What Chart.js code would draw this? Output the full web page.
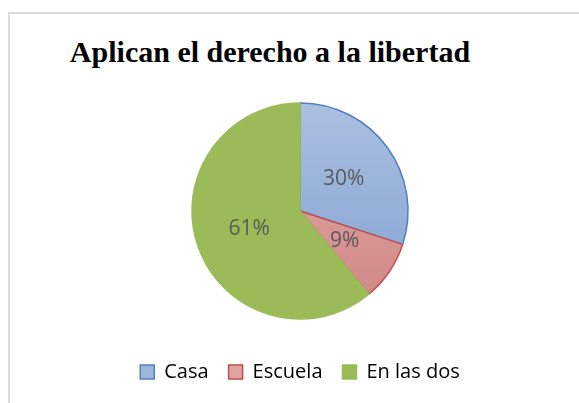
<!DOCTYPE html>
<html>
<head>
<meta charset="utf-8">
<script src="https://cdn.jsdelivr.net/npm/chart.js@4/dist/chart.umd.min.js"></script>
<style>
    html, body { margin: 0; padding: 0; background: #fff; }
    #wrap { position: relative; width: 579px; height: 403px; overflow: hidden; }
    #frame { position: absolute; left: 8px; top: 12px; width: 600px; height: 420px;
        border-left: 2px solid #dcdcdc; border-top: 2px solid #dcdcdc; }
    #title { position: absolute; left: 0; top: 35px; width: 540px; text-align: center;
        font: bold 30px "Liberation Serif", "DejaVu Serif", serif; color: #000; }
    canvas { position: absolute; left: 0; top: 0; }
</style>
</head>
<body>
<div id="wrap">
    <div id="frame"></div>
    <div id="title">Aplican el derecho a la libertad</div>
    <canvas id="c" width="579" height="403"></canvas>
</div>
<script>
/* Datos del gráfico */
const CATEGORIES = ['Casa', 'Escuela', 'En las dos'];
const VALUES = [30, 9, 61];
const PCT_LABELS = ['30%', '9%', '61%'];

// colores estilo Office: [arriba, abajo] del degradado y borde
const FILL_TOP = ['#abc0e1', '#e4acab', '#9bbb59'];
const FILL_BOTTOM = ['#809fd0', '#cf8583', '#9bbb59'];
const BORDERS = ['#4f81bd', '#c0504d', '#9bbb59'];
const LEGEND_FILL = ['#9fb6dc', '#dfa3a2', '#9bbb59'];

const PIE_R = 108;

function sliceFill(ctx) {
    const chart = ctx.chart;
    const area = chart.chartArea;
    const i = ctx.dataIndex;
    if (!area || FILL_TOP[i] === FILL_BOTTOM[i]) return FILL_TOP[i];
    const cy = (area.top + area.bottom) / 2;
    const g = chart.ctx.createLinearGradient(0, cy - PIE_R, 0, cy + PIE_R);
    g.addColorStop(0, FILL_TOP[i]);
    g.addColorStop(1, FILL_BOTTOM[i]);
    return g;
}

// etiquetas de porcentaje dentro de cada porción
const pctLabels = {
    id: 'pctLabels',
    afterDatasetsDraw(chart) {
        const { ctx } = chart;
        const meta = chart.getDatasetMeta(0);
        ctx.save();
        ctx.font = '21px "Open Sans", sans-serif';
        ctx.fillStyle = '#595959';
        ctx.textAlign = 'center';
        ctx.textBaseline = 'middle';
        meta.data.forEach((arc, i) => {
            const p = arc.tooltipPosition();
            ctx.fillText(PCT_LABELS[i], p.x, p.y);
        });
        ctx.restore();
    },
};

new Chart(document.getElementById('c'), {
    type: 'pie',
    data: {
        labels: CATEGORIES,
        datasets: [{
            data: VALUES,
            backgroundColor: sliceFill,
            borderColor: BORDERS,
            borderWidth: 1.5,
        }],
    },
    options: {
        responsive: false,
        animation: false,
        radius: PIE_R,
        layout: { padding: { top: 80, bottom: 11, left: 21, right: 0 } },
        plugins: {
            title: { display: false },
            tooltip: { enabled: false },
            legend: {
                position: 'bottom',
                labels: {
                    boxWidth: 14,
                    boxHeight: 14,
                    padding: 20,
                    color: '#7f7f7f',
                    font: { family: '"Open Sans", sans-serif', size: 20 },
                    generateLabels: () => CATEGORIES.map((c, i) => ({
                        text: c,
                        fillStyle: LEGEND_FILL[i],
                        strokeStyle: BORDERS[i],
                        lineWidth: 1.5,
                        index: i,
                    })),
                },
            },
        },
    },
    plugins: [pctLabels],
});
</script>
</body>
</html>
